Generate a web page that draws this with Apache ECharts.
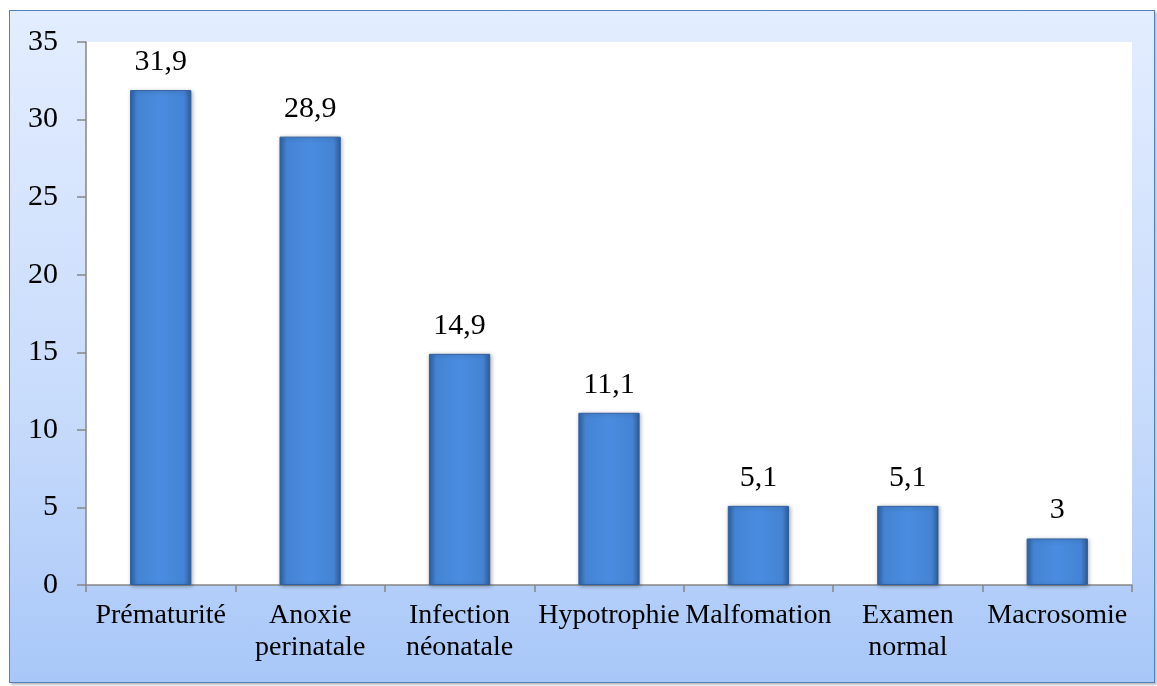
<!DOCTYPE html>
<html>
<head>
<meta charset="utf-8">
<script src="https://cdn.jsdelivr.net/npm/echarts@6/dist/echarts.min.js"></script>
<style>
  html, body { margin: 0; padding: 0; background: #fff; }
  #frame {
    position: absolute; left: 9px; top: 10px; width: 1144px; height: 671px;
    border: 1.5px solid #4f81bd;
    background: linear-gradient(to bottom, #e3edff 0%, #c7dbfb 60%, #a8c7f8 100%);
    box-shadow: 2px 2px 2px rgba(0,0,0,0.25);
  }
  #chart { position: absolute; left: 0; top: 0; width: 1157px; height: 686px; }
</style>
</head>
<body>
<div id="frame"></div>
<div id="chart"></div>
<script>
// valeurs
const categories = ['Prématurité', 'Anoxie\nperinatale', 'Infection\nnéonatale', 'Hypotrophie', 'Malfomation', 'Examen\nnormal', 'Macrosomie']
const values = [31.9, 28.9, 14.9, 11.1, 5.1, 5.1, 3]

const chart = echarts.init(document.getElementById('chart'))
chart.setOption({
  backgroundColor: 'transparent',
  textStyle: { fontFamily: 'Liberation Serif' },
  grid: {
    left: 86,
    top: 42,
    right: 25,
    bottom: 101,
    show: true,
    backgroundColor: '#fff',
    borderWidth: 0
  },
  xAxis: {
    type: 'category',
    data: categories,
    axisLine: { lineStyle: { color: '#868686', width: 1.5 } },
    axisTick: { show: true, length: 7, lineStyle: { color: '#868686', width: 1.5 } },
    axisLabel: {
      color: '#000',
      fontSize: 28,
      lineHeight: 32,
      margin: 15,
      interval: 0,
      hideOverlap: false,
      fontFamily: 'Liberation Serif'
    }
  },
  yAxis: {
    type: 'value',
    min: 0,
    max: 35,
    interval: 5,
    axisLine: { show: true, lineStyle: { color: '#868686', width: 1.5 } },
    axisTick: { show: true, length: 9, lineStyle: { color: '#868686', width: 1.5 } },
    splitLine: { show: false },
    axisLabel: {
      color: '#000',
      fontSize: 30,
      margin: 28,
      fontFamily: 'Liberation Serif'
    }
  },
  series: [
    {
      type: 'bar',
      data: values,
      barWidth: '41%',
      itemStyle: {
        color: new echarts.graphic.LinearGradient(0, 0, 1, 0, [
          { offset: 0, color: '#2f62a3' },
          { offset: 0.12, color: '#4584d4' },
          { offset: 0.5, color: '#4a8ce0' },
          { offset: 0.88, color: '#4584d4' },
          { offset: 1, color: '#2c5d9c' }
        ]),
        borderColor: '#2f5f9e',
        borderWidth: 1,
        shadowColor: 'rgba(0,0,0,0.3)',
        shadowBlur: 4,
        shadowOffsetX: 1,
        shadowOffsetY: 1
      },
      label: {
        show: true,
        position: 'top',
        distance: 13,
        color: '#000',
        fontSize: 30,
        fontFamily: 'Liberation Serif',
        formatter: p => String(p.value).replace('.', ',')
      }
    }
  ]
})
</script>
</body>
</html>
